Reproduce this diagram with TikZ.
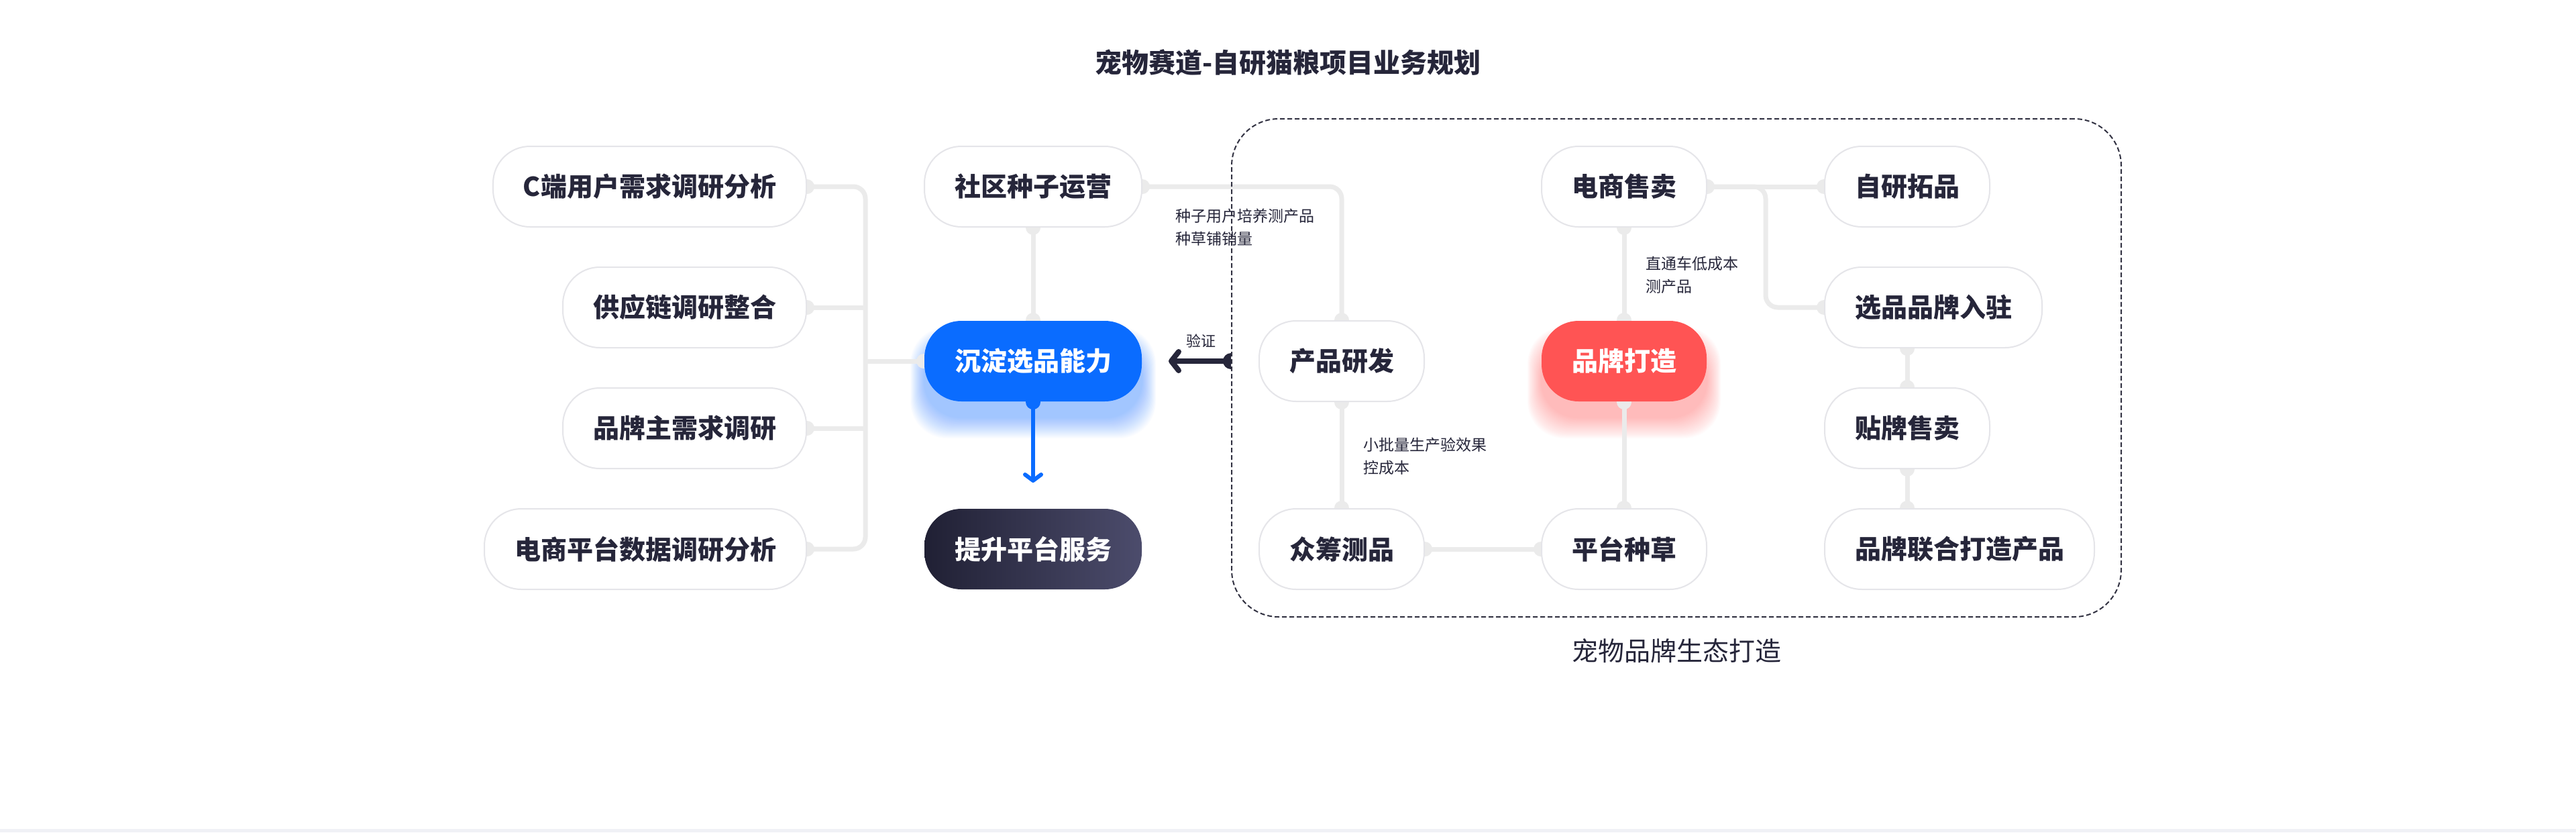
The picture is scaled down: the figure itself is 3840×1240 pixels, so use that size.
\documentclass[tikz,border=0pt]{standalone}
\usepackage{fontspec}
\setmainfont{Noto Sans CJK SC}
\usetikzlibrary{arrows.meta,backgrounds,calc,positioning}

\definecolor{textdark}{RGB}{38,38,58}
\definecolor{linegrey}{RGB}{235,235,235}
\definecolor{boxgrey}{RGB}{229,229,233}
\definecolor{selblue}{RGB}{10,108,255}
\definecolor{brandred}{RGB}{255,84,84}
\definecolor{navyL}{RGB}{32,32,52}
\definecolor{navyR}{RGB}{76,76,108}
\definecolor{bandgrey}{RGB}{240,241,246}
\definecolor{dashgrey}{RGB}{50,50,66}

\tikzset{
  box/.style={draw=boxgrey, line width=2pt, fill=white, rounded corners=55pt,
    minimum height=120pt, inner xsep=45pt, text=textdark,
    font=\fontsize{39pt}{47pt}\selectfont\bfseries},
  conn/.style={draw=linegrey, line width=7pt},
  note/.style={font=\fontsize{23pt}{34pt}\selectfont, text=textdark, align=left, inner sep=0pt},
}

\begin{document}
\begin{tikzpicture}[x=1pt,y=-1pt]
    \useasboundingbox (0,0) rectangle (3840,1240);

    % Title
    \node[font=\fontsize{40pt}{48pt}\selectfont\bfseries, text=textdark] (title) at (1920,93) {宠物赛道-自研猫粮项目业务规划};

    % Research column
    \node[box, anchor=east] (userres) at (1203,278) {C端用户需求调研分析};
    \node[box, anchor=east] (supply) at (1203,458) {供应链调研整合};
    \node[box, anchor=east] (brandreq) at (1203,638) {品牌主需求调研};
    \node[box, anchor=east] (ecdata) at (1203,818) {电商平台数据调研分析};

    % Middle column
    \node[box] (seed) at (1540,278) {社区种子运营};
    \node[box, draw=none, fill=selblue, text=white] (sel) at (1540,538) {沉淀选品能力};
    \node[box, draw=none, left color=navyL, right color=navyR, text=white] (service) at (1540,818) {提升平台服务};

    % Ecosystem frame
    \node[draw=dashgrey, line width=2pt, dash pattern=on 7pt off 4pt, rounded corners=70pt,
      minimum width=1326pt, minimum height=742pt] (eco) at (2499,548) {};
    \node[font=\fontsize{39pt}{47pt}\selectfont, text=textdark] (ecolabel) at (2499,970) {宠物品牌生态打造};

    % Ecosystem nodes
    \node[box] (rnd) at (2000,538) {产品研发};
    \node[box] (crowd) at (2000,818) {众筹测品};
    \node[box] (grass) at (2421,818) {平台种草};
    \node[box, draw=none, fill=brandred, text=white] (brand) at (2421,538) {品牌打造};
    \node[box] (ecsale) at (2421,278) {电商售卖};
    \node[box, anchor=west] (selfdev) at (2719,278) {自研拓品};
    \node[box, anchor=west] (brandin) at (2719,458) {选品品牌入驻};
    \node[box, anchor=west] (oem) at (2719,638) {贴牌售卖};
    \node[box, anchor=west] (cobrand) at (2719,818) {品牌联合打造产品};

    % Notes
    \node[note, anchor=west] (seednote) at (1752,339) {种子用户培养测产品\\种草铺销量};
    \node[note, anchor=west] (rndnote) at (2032,680) {小批量生产验效果\\控成本};
    \node[note, anchor=west] (ecnote) at (2453,410) {直通车低成本\\测产品};
    \node[note, font=\fontsize{22pt}{30pt}\selectfont] (verify) at (1790,508) {验证};

    % Verify arrow
    \coordinate (vstart) at (eco.west |- sel.east);
    \draw[textdark, line width=8pt, -{Straight Barb[round,length=11pt,width=28pt]}, shorten >=39pt] (vstart) -- (sel.east);
    \fill[textdark] (vstart) ++(0pt,12pt) arc[start angle=90, end angle=270, radius=12pt] -- cycle;

    \coordinate (trunk) at (1290,0);
    \coordinate (fork) at (2632,0);
    \coordinate (biport) at (oem.north |- brandin.south);
    \coordinate (cbport) at (oem.south |- cobrand.north);

    \begin{scope}[on background layer]
        \fill[white] (0,0) rectangle (3840,1240);
        \fill[bandgrey] (0,1235) rectangle (3840,1240);

        % Glows
        \foreach \g in {0,2,...,40} {
            \fill[selblue, opacity=0.02, rounded corners=55pt]
                ($(sel.south west)+(-\g*0.5, 24+\g*0.75)$) rectangle ($(sel.north east)+(\g*0.5, 34-\g*0.6)$);
            \fill[brandred, opacity=0.02, rounded corners=55pt]
                ($(brand.south west)+(-\g*0.5, 24+\g*0.75)$) rectangle ($(brand.north east)+(\g*0.5, 34-\g*0.6)$);
        }

        % Connectors
        \draw[conn, rounded corners=18pt] (userres.east) -- (trunk |- userres.east) -- (trunk |- ecdata.east) -- (ecdata.east);
        \draw[conn] (supply.east) -- (trunk |- supply.east);
        \draw[conn] (brandreq.east) -- (trunk |- brandreq.east);
        \draw[conn] (trunk |- sel.west) -- (sel.west);
        \draw[conn] (seed.south) -- (sel.north);
        \draw[conn, rounded corners=18pt] (seed.east) -| (rnd.north);
        \draw[conn] (rnd.south) -- (crowd.north);
        \draw[conn] (crowd.east) -- (grass.west);
        \draw[conn] (grass.north) -- (brand.south);
        \draw[conn] (brand.north) -- (ecsale.south);
        \draw[conn] (ecsale.east) -- (selfdev.west);
        \draw[conn, rounded corners=18pt] (ecsale.east) -- (fork |- ecsale.east) -- (fork |- brandin.west) -- (brandin.west);
        \draw[conn] (biport) -- (oem.north);
        \draw[conn] (oem.south) -- (cbport);

        % Blue arrow
        \draw[selblue, line width=6pt, -{Straight Barb[round,length=9pt,width=24pt]}, shorten >=38pt] (sel.south) -- (service.north);

        % Ports
        \foreach \p in {userres.east, supply.east, brandreq.east, ecdata.east, sel.west, sel.north,
            seed.south, seed.east, rnd.north, rnd.south, crowd.north, crowd.east, grass.west,
            grass.north, brand.south, brand.north, ecsale.south, ecsale.east, selfdev.west,
            brandin.west, biport, oem.north, oem.south, cbport}
            \fill[linegrey] (\p) circle (11pt);
        \fill[selblue] (sel.south) circle (11pt);
    \end{scope}

\end{tikzpicture}
\end{document}
